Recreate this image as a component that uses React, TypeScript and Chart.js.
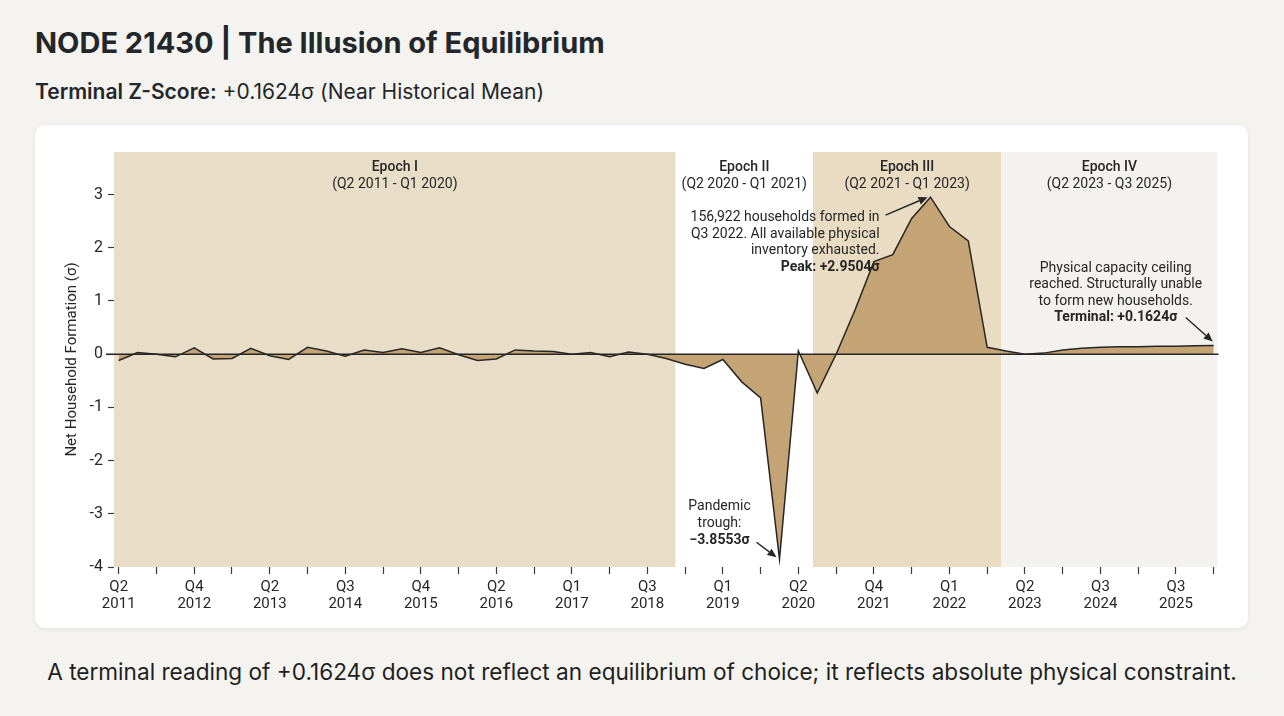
import React, { useEffect, useRef } from 'react';
import { Chart, registerables } from 'chart.js';

Chart.register(...registerables);

// Quarterly net household formation z-scores, Q2 2011 onward (one value per quarter slot)
const householdZ: number[] = [
  -0.12, 0.03, 0.0, -0.05, 0.12, -0.09, -0.08, 0.11, -0.03, -0.1,
  0.13, 0.06, -0.04, 0.08, 0.03, 0.1, 0.03, 0.12, -0.01, -0.12,
  -0.09, 0.08, 0.06, 0.05, 0.0, 0.03, -0.05, 0.04, 0.0, -0.08,
  -0.19, -0.27, -0.1, -0.52, -0.82, -3.8553, 0.06, -0.73, 0.0, 0.83,
  1.74, 1.87, 2.55, 2.9504, 2.4, 2.13, 0.13, 0.06, 0.0, 0.02,
  0.08, 0.11, 0.13, 0.14, 0.14, 0.15, 0.15, 0.16, 0.1624,
];

// Labelled x ticks (slot index -> "quarter year")
const majorTickSlots: number[] = [0, 4, 8, 12, 16, 20, 24, 28, 32, 36, 40, 44, 48, 52, 56];
const majorTickQuarters: string[] = ['Q2', 'Q4', 'Q2', 'Q3', 'Q4', 'Q2', 'Q1', 'Q3', 'Q1', 'Q2', 'Q4', 'Q1', 'Q2', 'Q3', 'Q3'];
const majorTickYears: string[] = ['2011', '2012', '2013', '2014', '2015', '2016', '2017', '2018', '2019', '2020', '2021', '2022', '2023', '2024', '2025'];
// Unlabelled x tick marks sit between the labelled ones
const minorTickSlots: number[] = [2, 6, 10, 14, 18, 22, 26, 30, 34, 38, 42, 46, 50, 54, 58];

const yTickValues: number[] = [-4, -3, -2, -1, 0, 1, 2, 3];

// Regime bands along the slot axis
const epochNames: string[] = ['Epoch I', 'Epoch II', 'Epoch III', 'Epoch IV'];
const epochRanges: string[] = ['(Q2 2011 - Q1 2020)', '(Q2 2020 - Q1 2021)', '(Q2 2021 - Q1 2023)', '(Q2 2023 - Q3 2025)'];
const epochStarts: number[] = [-0.25, 29.5, 36.77, 46.75];
const epochEnds: number[] = [29.5, 36.77, 46.75, 58.2];
const epochColors: string[] = ['#e8ddc7', '#ffffff', '#e9dcc3', '#f3f2ee'];

const peakSlot = 43;
const troughSlot = 35;
const terminalSlot = 58;

const INK = '#262626';
const FONT = 'Roboto, "Noto Sans", sans-serif';

function drawArrow(ctx: CanvasRenderingContext2D, x0: number, y0: number, x1: number, y1: number) {
  const ang = Math.atan2(y1 - y0, x1 - x0);
  const head = 9;
  const half = 4;
  const bx = x1 - head * Math.cos(ang);
  const by = y1 - head * Math.sin(ang);
  ctx.beginPath();
  ctx.moveTo(x0, y0);
  ctx.lineTo(bx, by);
  ctx.strokeStyle = INK;
  ctx.lineWidth = 1.4;
  ctx.stroke();
  ctx.beginPath();
  ctx.moveTo(x1, y1);
  ctx.lineTo(bx + half * Math.sin(ang), by - half * Math.cos(ang));
  ctx.lineTo(bx - half * Math.sin(ang), by + half * Math.cos(ang));
  ctx.closePath();
  ctx.fillStyle = INK;
  ctx.fill();
}

const overlayPlugin = {
  id: 'epochOverlay',
  beforeDatasetsDraw(chart: any) {
    const { ctx, chartArea: a, scales } = chart;
    const x = scales.x;
    ctx.save();
    for (let i = 0; i < epochNames.length; i++) {
      const x0 = Math.max(a.left, x.getPixelForValue(epochStarts[i]));
      const x1 = Math.min(a.right, x.getPixelForValue(epochEnds[i]));
      ctx.fillStyle = epochColors[i];
      ctx.fillRect(x0, a.top, x1 - x0, a.bottom - a.top);
      const cx = (x0 + x1) / 2;
      ctx.fillStyle = INK;
      ctx.textAlign = 'center';
      ctx.textBaseline = 'alphabetic';
      ctx.font = `500 14px ${FONT}`;
      ctx.fillText(epochNames[i], cx, a.top + 19);
      ctx.font = `400 14px ${FONT}`;
      ctx.fillText(epochRanges[i], cx, a.top + 36);
    }
    ctx.restore();
  },
  afterDatasetsDraw(chart: any) {
    const { ctx, chartArea: a, scales } = chart;
    const x = scales.x;
    const y = scales.y;
    ctx.save();

    // zero reference line
    const y0 = y.getPixelForValue(0);
    ctx.beginPath();
    ctx.moveTo(a.left - 8, y0);
    ctx.lineTo(a.right + 1, y0);
    ctx.strokeStyle = INK;
    ctx.lineWidth = 1.5;
    ctx.stroke();

    ctx.fillStyle = INK;
    ctx.textBaseline = 'alphabetic';

    // peak note
    const px = x.getPixelForValue(peakSlot);
    const py = y.getPixelForValue(householdZ[peakSlot]);
    ctx.textAlign = 'right';
    ctx.font = `400 14px ${FONT}`;
    ctx.fillText('156,922 households formed in', px - 51, py + 24);
    ctx.fillText('Q3 2022. All available physical', px - 51, py + 41);
    ctx.fillText('inventory exhausted.', px - 51, py + 57);
    ctx.font = `700 14px ${FONT}`;
    ctx.fillText('Peak: +2.9504σ', px - 51, py + 74);
    drawArrow(ctx, px - 45, py + 18, px - 3, py);

    // trough note
    const tx = x.getPixelForValue(troughSlot);
    const ty = y.getPixelForValue(householdZ[troughSlot]);
    ctx.fillStyle = INK;
    ctx.textAlign = 'center';
    ctx.font = `400 14px ${FONT}`;
    ctx.fillText('Pandemic', tx - 60, ty - 49);
    ctx.fillText('trough:', tx - 60, ty - 32);
    ctx.font = `700 14px ${FONT}`;
    ctx.fillText('\u22123.8553σ', tx - 60, ty - 15);
    drawArrow(ctx, tx - 23, ty - 17, tx - 3, ty - 2);

    // terminal note
    const ex = x.getPixelForValue(terminalSlot);
    const ey = y.getPixelForValue(householdZ[terminalSlot]);
    ctx.fillStyle = INK;
    ctx.textAlign = 'center';
    ctx.font = `400 14px ${FONT}`;
    ctx.fillText('Physical capacity ceiling', ex - 98, ey - 74);
    ctx.fillText('reached. Structurally unable', ex - 98, ey - 58);
    ctx.fillText('to form new households.', ex - 98, ey - 41);
    ctx.font = `700 14px ${FONT}`;
    ctx.fillText('Terminal: +0.1624σ', ex - 98, ey - 25);
    drawArrow(ctx, ex - 28, ey - 28, ex - 1, ey - 4);

    ctx.restore();
  },
};

function HouseholdChart() {
  const ref = useRef<HTMLCanvasElement | null>(null);

  useEffect(() => {
    if (!ref.current) return;
    const points = householdZ.map((v, i) => ({ x: i, y: v }));
    const chart = new Chart(ref.current, {
      type: 'line',
      data: {
        datasets: [
          {
            data: points,
            borderColor: INK,
            borderWidth: 1.5,
            backgroundColor: '#c4a375',
            fill: 'origin',
            pointRadius: 0,
            tension: 0,
          },
        ],
      },
      options: {
        animation: false,
        responsive: false,
        devicePixelRatio: 1,
        layout: { padding: { left: 0, right: 30.5, top: 27, bottom: 0 } },
        plugins: { legend: { display: false }, tooltip: { enabled: false } },
        scales: {
          x: {
            type: 'linear',
            min: -0.25,
            max: 58.2,
            afterBuildTicks: (s: any) => {
              s.ticks = [...majorTickSlots, ...minorTickSlots].sort((p, q) => p - q).map((v) => ({ value: v }));
            },
            afterFit: (s: any) => {
              s.height = 61;
            },
            border: { display: false },
            grid: { drawOnChartArea: false, drawTicks: true, tickLength: 7, tickColor: '#3a3a3a', tickWidth: 1.2 },
            ticks: {
              autoSkip: false,
              maxRotation: 0,
              padding: 5,
              color: INK,
              font: { family: FONT, size: 15, lineHeight: 1.1 },
              callback: (v: any) => {
                const k = majorTickSlots.indexOf(Number(v));
                return k >= 0 ? [majorTickQuarters[k], majorTickYears[k]] : '';
              },
            },
          },
          y: {
            min: -4,
            max: 3.8,
            afterBuildTicks: (s: any) => {
              s.ticks = yTickValues.map((v) => ({ value: v }));
            },
            afterFit: (s: any) => {
              s.width = 79;
            },
            border: { display: false },
            grid: { drawOnChartArea: false, drawTicks: true, tickLength: 6, tickColor: '#3a3a3a', tickWidth: 1.2 },
            ticks: { padding: 5, color: INK, font: { family: FONT, size: 16 } },
            title: {
              display: true,
              text: 'Net Household Formation (σ)',
              color: INK,
              font: { family: FONT, size: 15 },
              padding: { top: 28, bottom: 0 },
            },
          },
        },
      },
      plugins: [overlayPlugin],
    });
    return () => chart.destroy();
  }, []);

  return <canvas ref={ref} width={1213} height={503} style={{ width: 1213, height: 503, display: 'block' }} />;
}

export default function App() {
  return (
    <div
      style={{
        position: 'absolute',
        left: 0,
        top: 0,
        width: 1284,
        height: 716,
        background: '#f4f3ef',
        fontFamily: 'Inter, Roboto, sans-serif',
        color: '#222',
        overflow: 'hidden',
      }}
    >
      <div style={{ position: 'absolute', left: 35, top: 26, fontSize: 29, lineHeight: '34px', fontWeight: 700, color: '#23272b' }}>
        NODE 21430 | The Illusion of Equilibrium
      </div>
      <div style={{ position: 'absolute', left: 35, top: 79, fontSize: 21, lineHeight: '26px', color: '#23272b' }}>
        <span style={{ fontWeight: 600 }}>Terminal Z-Score:</span> +0.1624σ (Near Historical Mean)
      </div>
      <div
        style={{
          position: 'absolute',
          left: 35,
          top: 125,
          width: 1213,
          height: 503,
          background: '#ffffff',
          borderRadius: 10,
          boxShadow: '0 1px 5px rgba(0,0,0,0.08)',
          overflow: 'hidden',
        }}
      >
        <HouseholdChart />
      </div>
      <div
        style={{
          position: 'absolute',
          left: 0,
          width: 1284,
          top: 659,
          textAlign: 'center',
          fontSize: 22.6,
          lineHeight: '26px',
          color: '#1f1f1f',
        }}
      >
        A terminal reading of +0.1624σ does not reflect an equilibrium of choice; it reflects absolute physical constraint.
      </div>
    </div>
  );
}
